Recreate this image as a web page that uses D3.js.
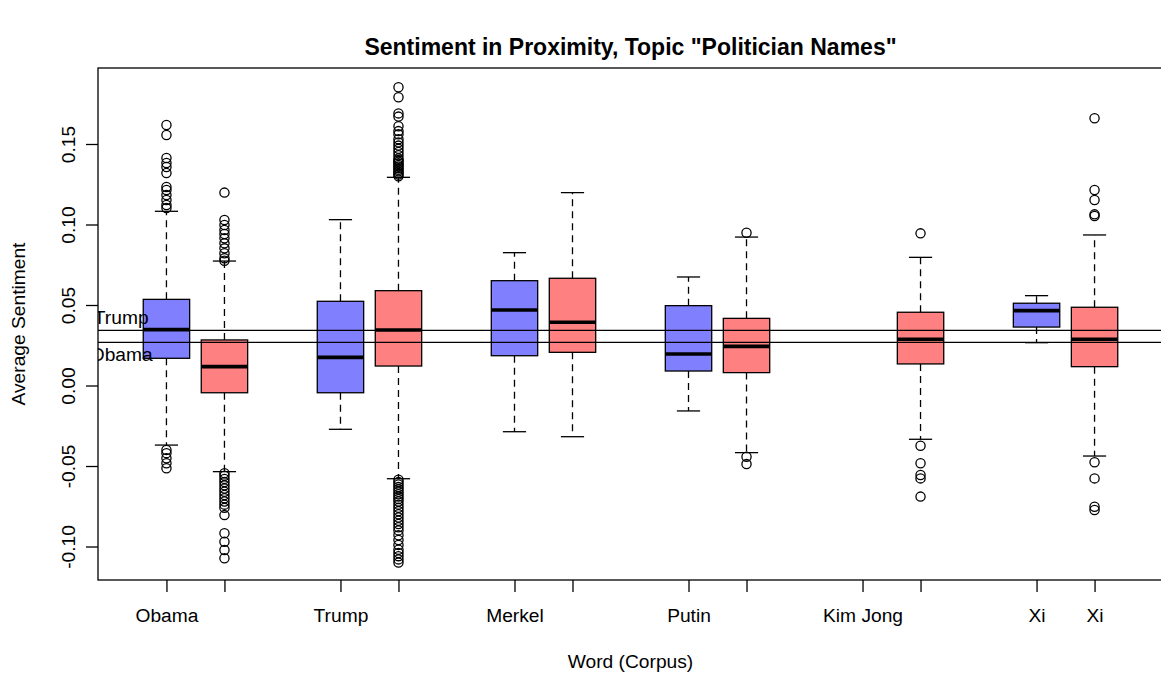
<!DOCTYPE html>
<html>
<head>
<meta charset="utf-8">
<script src="https://cdn.jsdelivr.net/npm/d3@7"></script>
<style>
  body { margin: 0; background: #fff; }
  svg text { font-family: "Liberation Sans", Arial, Helvetica, sans-serif; fill: #000; }
</style>
</head>
<body>
<script>
// words and the two corpora (blue, red) drawn side by side for each word
var categories = ["Obama", "Trump", "Merkel", "Putin", "Kim Jong", "Xi"];
var corpora = ["Corpus A", "Corpus B"];
var corpusColors = ["#8080ff", "#ff8080"];

// box statistics, one entry per box (word x corpus), null = no data
var lowerWhisker = [-0.0370, -0.0535, -0.0272, -0.0579, -0.0287, -0.0318, -0.0158, -0.0417, null, -0.0334, 0.0266, -0.0438];
var lowerHinge   = [ 0.0169, -0.0045, -0.0045,  0.0121,  0.0185,  0.0206,  0.0090,  0.0080, null,  0.0134, 0.0363,  0.0117];
var medians      = [ 0.0347,  0.0117,  0.0175,  0.0345,  0.0469,  0.0393,  0.0196,  0.0243, null,  0.0287, 0.0465,  0.0287];
var upperHinge   = [ 0.0535,  0.0283,  0.0523,  0.0589,  0.0651,  0.0666,  0.0496,  0.0417, null,  0.0455, 0.0511,  0.0486];
var upperWhisker = [ 0.1082,  0.0773,  0.1030,  0.1293,  0.0825,  0.1198,  0.0674,  0.0922, null,  0.0796, 0.0558,  0.0935];

var outliers = [
    [0.1618, 0.1556, 0.1413, 0.1382, 0.1357, 0.1320, 0.1233, 0.1214, 0.1183, 0.1152, 0.1121, 0.1102,
     -0.0400, -0.0420, -0.0452, -0.0483, -0.0514],
    [0.1198, 0.1028, 0.0997, 0.0966, 0.0941, 0.0914, 0.0883, 0.0852, 0.0821, 0.0790, 0.0775,
     -0.0545, -0.0560, -0.0580, -0.0600, -0.0620, -0.0640, -0.0660, -0.0680, -0.0700, -0.0720, -0.0740,
     -0.0760, -0.0805, -0.0918, -0.0970, -0.1022, -0.1073],
    [],
    [0.1852, 0.1790, 0.1690, 0.1670, 0.1610, 0.1580, 0.1560, 0.1530, 0.1510, 0.1490, 0.1470, 0.1450,
     0.1430, 0.1410, 0.1400, 0.1390, 0.1380, 0.1370, 0.1360, 0.1350, 0.1340, 0.1330, 0.1320, 0.1310, 0.1300,
     -0.0585, -0.0600, -0.0615, -0.0630, -0.0645, -0.0660, -0.0675, -0.0690, -0.0705, -0.0720, -0.0740,
     -0.0760, -0.0780, -0.0800, -0.0820, -0.0840, -0.0860, -0.0880, -0.0900, -0.0930, -0.0960, -0.0990,
     -0.1020, -0.1040, -0.1060, -0.1080, -0.1100],
    [],
    [],
    [],
    [0.0949, -0.0442, -0.0488],
    [],
    [0.0945, -0.0374, -0.0483, -0.0556, -0.0577, -0.0690],
    [],
    [0.1660, 0.1214, 0.1152, 0.1063, 0.1053, -0.0477, -0.0577, -0.0753, -0.0773]
];

// overall mean lines
var refNames = ["Trump", "Obama"];
var refValues = [0.0342, 0.0268];

var yTicks = [-0.10, -0.05, 0.00, 0.05, 0.10, 0.15];

var width = 1161, height = 674;
var margin = {top: 68, right: -2, bottom: 94, left: 98};
var fontSize = 19.2;
var lw = 1.3;

var svg = d3.select("body").append("svg")
    .attr("width", width)
    .attr("height", height);

// boxes sit at 1,2, 4,5, 7,8 ... (one empty slot between words)
var boxes = [];
categories.forEach(function (c, ci) {
    corpora.forEach(function (k, ki) {
        var i = ci * corpora.length + ki;
        boxes.push({
            word: c, corpus: ki, pos: ci * 3 + ki + 1,
            lw: lowerWhisker[i], q1: lowerHinge[i], med: medians[i],
            q3: upperHinge[i], uw: upperWhisker[i], out: outliers[i]
        });
    });
});

var positions = boxes.map(function (b) { return b.pos; });
var pmin = d3.min(positions) - 0.5, pmax = d3.max(positions) + 0.5;
var pext = (pmax - pmin) * 0.04;

var x = d3.scaleLinear()
    .domain([pmin - pext, pmax + pext])
    .range([margin.left, width - margin.right]);

var y = d3.scaleLinear()
    .domain([-0.1208, 0.1972])
    .range([height - margin.bottom, margin.top]);

var boxW = x(0.8) - x(0);
var capW = boxW / 2;

svg.append("defs").append("clipPath").attr("id", "plotclip")
    .append("rect")
    .attr("x", x.range()[0]).attr("y", margin.top)
    .attr("width", x.range()[1] - x.range()[0])
    .attr("height", height - margin.bottom - margin.top);

var g = svg.append("g").attr("class", "boxes");

var bg = g.selectAll("g.box")
    .data(boxes.filter(function (b) { return b.med !== null; }))
    .enter().append("g")
    .attr("class", "box");

// whiskers
bg.append("line")
    .attr("x1", function (d) { return x(d.pos); })
    .attr("x2", function (d) { return x(d.pos); })
    .attr("y1", function (d) { return y(d.q3); })
    .attr("y2", function (d) { return y(d.uw); })
    .attr("stroke", "#000").attr("stroke-width", lw)
    .attr("stroke-dasharray", "7,5");
bg.append("line")
    .attr("x1", function (d) { return x(d.pos); })
    .attr("x2", function (d) { return x(d.pos); })
    .attr("y1", function (d) { return y(d.q1); })
    .attr("y2", function (d) { return y(d.lw); })
    .attr("stroke", "#000").attr("stroke-width", lw)
    .attr("stroke-dasharray", "7,5");

// staples
["uw", "lw"].forEach(function (key) {
    bg.append("line")
        .attr("x1", function (d) { return x(d.pos) - capW / 2; })
        .attr("x2", function (d) { return x(d.pos) + capW / 2; })
        .attr("y1", function (d) { return y(d[key]); })
        .attr("y2", function (d) { return y(d[key]); })
        .attr("stroke", "#000").attr("stroke-width", lw);
});

// box
bg.append("rect")
    .attr("x", function (d) { return x(d.pos) - boxW / 2; })
    .attr("width", boxW)
    .attr("y", function (d) { return y(d.q3); })
    .attr("height", function (d) { return y(d.q1) - y(d.q3); })
    .attr("fill", function (d) { return corpusColors[d.corpus]; })
    .attr("stroke", "#000").attr("stroke-width", lw);

// median
bg.append("line")
    .attr("x1", function (d) { return x(d.pos) - boxW / 2; })
    .attr("x2", function (d) { return x(d.pos) + boxW / 2; })
    .attr("y1", function (d) { return y(d.med); })
    .attr("y2", function (d) { return y(d.med); })
    .attr("stroke", "#000").attr("stroke-width", 3.6);

// outliers
bg.selectAll("circle")
    .data(function (d) { return d.out.map(function (v) { return {pos: d.pos, v: v}; }); })
    .enter().append("circle")
    .attr("cx", function (d) { return x(d.pos); })
    .attr("cy", function (d) { return y(d.v); })
    .attr("r", 4.6)
    .attr("fill", "none")
    .attr("stroke", "#000").attr("stroke-width", lw);

// reference lines with labels
var ref = svg.append("g").attr("clip-path", "url(#plotclip)");
ref.selectAll("line")
    .data(refValues)
    .enter().append("line")
    .attr("x1", x.range()[0]).attr("x2", x.range()[1])
    .attr("y1", function (d) { return y(d); })
    .attr("y2", function (d) { return y(d); })
    .attr("stroke", "#000").attr("stroke-width", lw);
ref.selectAll("text")
    .data(refValues)
    .enter().append("text")
    .attr("x", x(0.22))
    .attr("y", function (d, i) { return y(d) + (i === 0 ? -6 : 18.5); })
    .attr("text-anchor", "middle")
    .style("font-size", fontSize + "px")
    .text(function (d, i) { return refNames[i]; });

// axes
var fmt = d3.formatLocale({decimal: ".", thousands: ",", grouping: [3], currency: ["", ""], minus: "-"}).format(".2f");

var yAxis = svg.append("g")
    .attr("transform", "translate(" + margin.left + ",0)")
    .call(d3.axisLeft(y).tickValues(yTicks).tickSize(12).tickFormat(fmt));
yAxis.select(".domain").remove();
yAxis.selectAll(".tick line").attr("stroke-width", lw);
yAxis.selectAll(".tick text")
    .attr("x", null).attr("dy", null)
    .attr("transform", "translate(-23,0) rotate(-90)")
    .attr("text-anchor", "middle")
    .style("font-size", fontSize + "px");

var xAxis = svg.append("g")
    .attr("transform", "translate(0," + (height - margin.bottom) + ")")
    .call(d3.axisBottom(x).tickValues(positions).tickSize(12)
        .tickFormat(function (p) { return boxes[positions.indexOf(p)].word; }));
xAxis.select(".domain").remove();
xAxis.selectAll(".tick line").attr("stroke-width", lw);
xAxis.selectAll(".tick text")
    .attr("y", 42).attr("dy", null)
    .style("font-size", fontSize + "px");
xAxis.attr("font-family", null).attr("font-size", null);
yAxis.attr("font-family", null).attr("font-size", null);

// drop labels that would collide with the previous one, as R does
var lastRight = -Infinity;
xAxis.selectAll(".tick text").each(function (p) {
    var w = this.getComputedTextLength();
    var left = x(p) - w / 2;
    if (left < lastRight + fontSize) {
        d3.select(this).remove();
    } else {
        lastRight = x(p) + w / 2;
    }
});

// plot frame
svg.append("rect")
    .attr("x", x.range()[0]).attr("y", margin.top)
    .attr("width", x.range()[1] - x.range()[0])
    .attr("height", height - margin.bottom - margin.top)
    .attr("fill", "none")
    .attr("stroke", "#000").attr("stroke-width", lw);

// titles
svg.append("text")
    .attr("x", (x.range()[0] + x.range()[1]) / 2)
    .attr("y", 55)
    .attr("text-anchor", "middle")
    .style("font-size", "23px")
    .style("font-weight", "bold")
    .text("Sentiment in Proximity, Topic \"Politician Names\"");

svg.append("text")
    .attr("x", (x.range()[0] + x.range()[1]) / 2)
    .attr("y", 668)
    .attr("text-anchor", "middle")
    .style("font-size", fontSize + "px")
    .text("Word (Corpus)");

svg.append("text")
    .attr("transform", "translate(25," + ((margin.top + height - margin.bottom) / 2) + ") rotate(-90)")
    .attr("text-anchor", "middle")
    .style("font-size", fontSize + "px")
    .text("Average Sentiment");
</script>
</body>
</html>
